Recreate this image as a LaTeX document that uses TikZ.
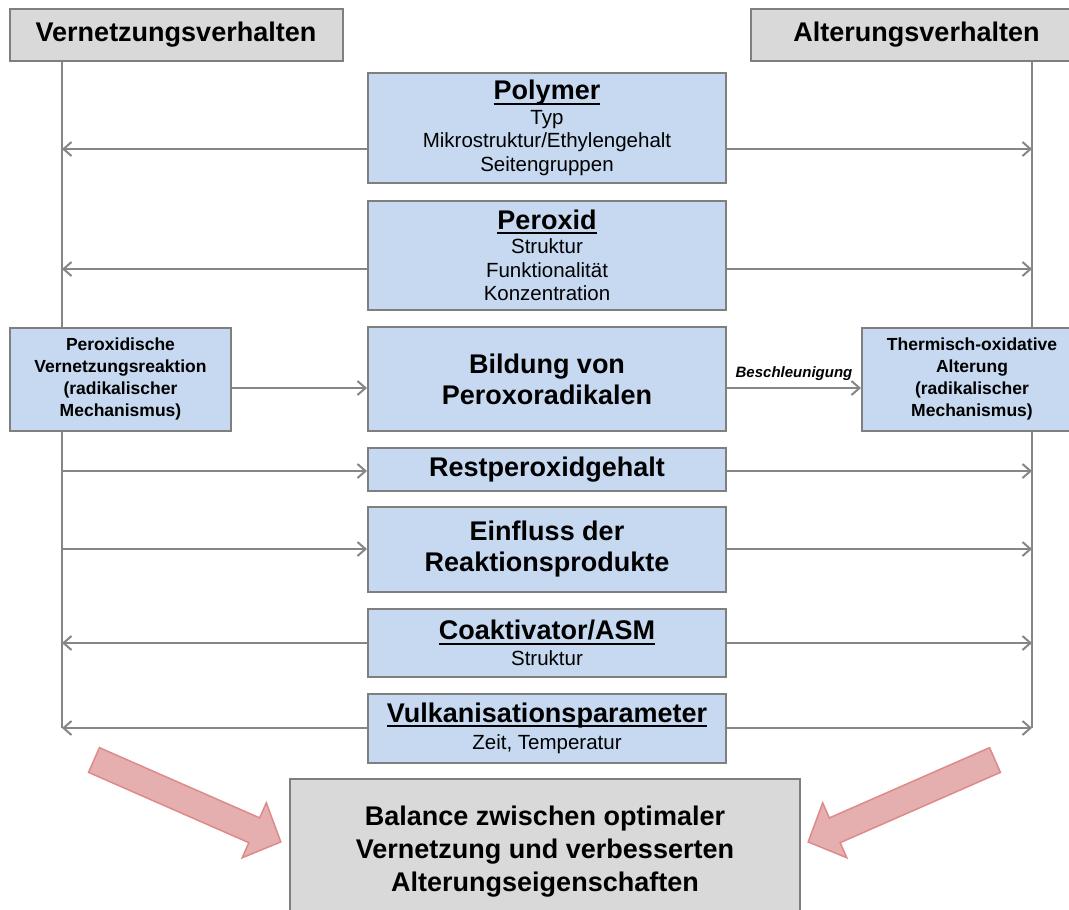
\documentclass[tikz,border=0pt]{standalone}
\usepackage{fontspec}
\setmainfont{Liberation Sans}
\usetikzlibrary{arrows.meta,calc}
\definecolor{boxblue}{HTML}{C6D9F1}
\definecolor{boxgray}{HTML}{D9D9D9}
\definecolor{edgegray}{HTML}{7F7F7F}
\definecolor{linegray}{HTML}{868686}
\definecolor{pinkfill}{HTML}{E6AFAF}
\definecolor{pinkedge}{HTML}{DE8A8A}
\newcommand{\ulx}[1]{\setbox0=\hbox{#1}\rlap{\vrule height -3pt depth 5pt width \wd0}\box0}
\newcommand{\bigb}{\fontsize{27}{31}\selectfont\bfseries}
\newcommand{\smallr}{\fontsize{20.5}{23.5}\selectfont\mdseries}
\newcommand{\sideb}{\fontsize{17.5}{22}\selectfont\bfseries}
\begin{document}
\begin{tikzpicture}[x=1pt,y=-1pt,
  conn/.style={draw=linegray,line width=2pt},
  arr/.style={conn,-{Straight Barb[length=8pt,width=14pt]}},
  bluebox/.style={draw=edgegray,fill=boxblue,line width=2pt,inner sep=0pt,align=center,minimum width=358pt},
  graybox/.style={draw=edgegray,fill=boxgray,line width=2pt,inner sep=0pt,align=center},
  sidebox/.style={draw=edgegray,fill=boxblue,line width=2pt,inner sep=0pt,align=center,minimum height=103pt,font=\sideb},
  bigarrow/.style={fill=pinkfill,draw=pinkedge,line width=1.5pt,line join=miter}]
\useasboundingbox (0,0) rectangle (1069,910);
\clip (0,0) rectangle (1069,910);
\fill[white] (0,0) rectangle (1069,910);

% headers
\node[graybox,minimum width=333pt,minimum height=52pt,font=\bigb] (hl) at (176,35) {Vernetzungsverhalten};
\node[graybox,minimum width=331pt,minimum height=52pt,font=\bigb] (hr) at (916.5,35) {Alterungsverhalten};

% side line coordinates
\coordinate (Lb) at (62,728);
\coordinate (Rb) at (1032,728);
\coordinate (L1) at (62,149);  \coordinate (R1) at (1032,149);
\coordinate (L2) at (62,269);  \coordinate (R2) at (1032,269);
\coordinate (L4) at (62,471);  \coordinate (R4) at (1032,471);
\coordinate (L5) at (62,549);  \coordinate (R5) at (1032,549);
\coordinate (L6) at (62,643);  \coordinate (R6) at (1032,643);

\draw[conn] (hl.south -| Lb) -- (Lb);
\draw[conn] (hr.south -| Rb) -- (Rb);

% central boxes
\node[bluebox,minimum height=110pt,font=\smallr] (poly) at (547,128)
  {{\bigb\ulx{Polymer}}\\[1pt]Typ\\Mikrostruktur/Ethylengehalt\\Seitengruppen};
\node[bluebox,minimum height=109pt,font=\smallr] (perox) at (547,255.5)
  {{\bigb\ulx{Peroxid}}\\[1pt]Struktur\\Funktionalität\\Konzentration};
\node[bluebox,minimum height=104pt,font=\bigb] (bild) at (547,379)
  {Bildung von\\Peroxoradikalen};
\node[bluebox,minimum height=43pt,font=\bigb] (rest) at (547,469.5)
  {Restperoxidgehalt};
\node[bluebox,minimum height=85pt,font=\bigb] (einf) at (547,549.5)
  {Einfluss der\\Reaktionsprodukte};
\node[bluebox,minimum height=68pt,font=\smallr] (coak) at (547,643)
  {{\bigb\ulx{Coaktivator/ASM}}\\[2pt]Struktur};
\node[bluebox,minimum height=69pt,font=\smallr] (vulk) at (547,728.5)
  {{\bigb\ulx{Vulkanisationsparameter}}\\[4pt]Zeit, Temperatur};

% side boxes
\node[sidebox,minimum width=221pt] (pvr) at (120.5,379)
  {Peroxidische\\Vernetzungsreaktion\\(radikalischer\\Mechanismus)};
\node[sidebox,minimum width=220pt] (toa) at (972,379)
  {Thermisch-oxidative\\Alterung\\(radikalischer\\Mechanismus)};

% connectors
\draw[arr] (poly.west |- L1) -- (L1);
\draw[arr] (poly.east |- R1) -- (R1);
\draw[arr] (perox.west |- L2) -- (L2);
\draw[arr] (perox.east |- R2) -- (R2);
\draw[arr] (pvr.east |- 0,388) -- (bild.west |- 0,388);
\draw[arr] (bild.east |- 0,388) -- (toa.west |- 0,388)
  node[midway,above=3pt,font=\fontsize{15}{17}\selectfont\bfseries\itshape] (besch) {Beschleunigung};
\draw[arr] (L4) -- (rest.west |- L4);
\draw[arr] (rest.east |- R4) -- (R4);
\draw[arr] (L5) -- (einf.west |- L5);
\draw[arr] (einf.east |- R5) -- (R5);
\draw[arr] (coak.west |- L6) -- (L6);
\draw[arr] (coak.east |- R6) -- (R6);
\draw[arr] (vulk.west |- Lb) -- (Lb);
\draw[arr] (vulk.east |- Rb) -- (Rb);

% balance box
\node[graybox,minimum width=510pt,minimum height=146pt,font=\fontsize{27}{33}\selectfont\bfseries] (bal) at (545,852)
  {Balance zwischen optimaler\\Vernetzung und verbesserten\\Alterungseigenschaften};

% big pink arrows
\begin{scope}[shift={(94,760)},rotate=-23.68]
  \filldraw[bigarrow] (0,-13.5) -- (175,-13.5) -- (175,-30) -- (204,0) -- (175,30) -- (175,13.5) -- (0,13.5) -- cycle;
\end{scope}
\begin{scope}[shift={(995,760)},rotate=-156.32]
  \filldraw[bigarrow] (0,-13.5) -- (175,-13.5) -- (175,-30) -- (204,0) -- (175,30) -- (175,13.5) -- (0,13.5) -- cycle;
\end{scope}
\end{tikzpicture}
\end{document}
